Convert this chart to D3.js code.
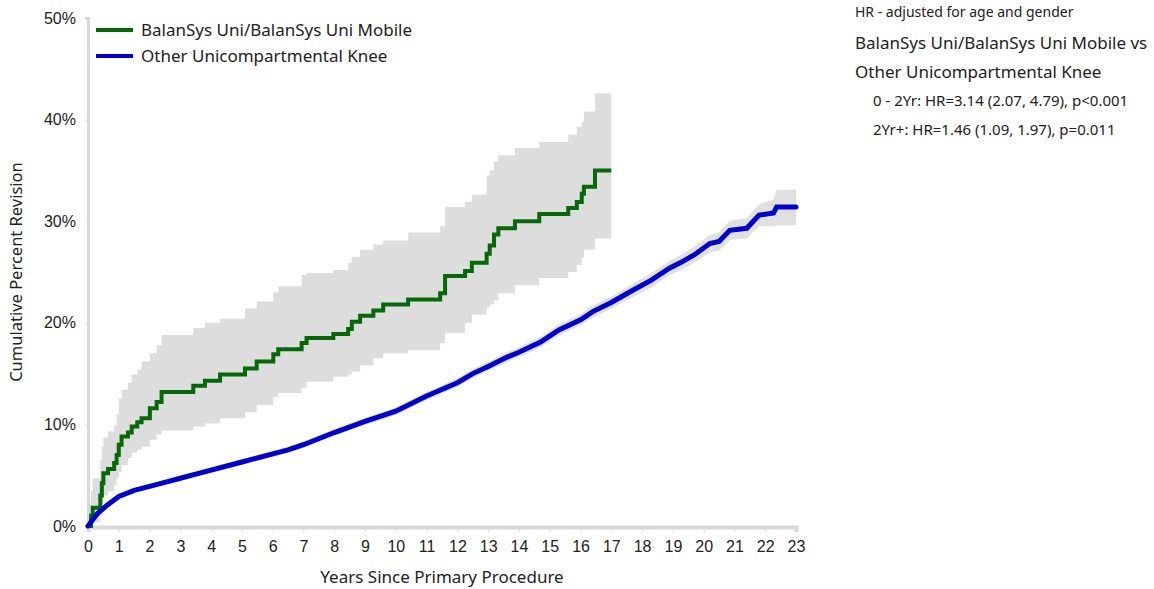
<!DOCTYPE html>
<html>
<head>
<meta charset="utf-8">
<script src="https://cdn.jsdelivr.net/npm/d3@7"></script>
<style>
  body { margin: 0; background: #fff; }
  svg { font-family: "Noto Sans", "Open Sans", sans-serif; }
</style>
</head>
<body>
<svg id="chart" width="1154" height="589"></svg>
<script>
// BalanSys Uni/BalanSys Uni Mobile (step curve with CI)
const gTime = [0, 0.1, 0.15, 0.4, 0.45, 0.5, 0.65, 0.85, 0.93, 1.0, 1.09, 1.3, 1.42, 1.6, 1.74, 2.01, 2.23, 2.39, 3.42, 3.8, 4.29, 5.1, 5.48, 6.02, 6.18, 6.94, 7.1, 7.97, 8.45, 8.57, 8.84, 9.27, 9.59, 10.4, 11.44, 11.6, 12.25, 12.47, 12.95, 13.05, 13.19, 13.33, 13.87, 14.66, 15.6, 15.88, 16.04, 16.11, 16.47, 17.0];
const gRev = [0, 1.0, 1.8, 3.0, 4.2, 5.2, 5.6, 6.2, 7.0, 8.0, 8.8, 9.2, 9.8, 10.2, 10.6, 11.6, 12.2, 13.2, 13.8, 14.3, 14.9, 15.5, 16.2, 16.9, 17.4, 18.0, 18.5, 18.9, 19.4, 20.1, 20.7, 21.2, 21.8, 22.3, 22.9, 24.6, 25.1, 25.9, 26.8, 27.6, 28.7, 29.3, 30.0, 30.7, 31.3, 31.9, 32.7, 33.4, 35.0, 35.0];
const gLow = [0, 0.1, 0.4, 1.2, 2.2, 3.0, 3.4, 4.0, 4.7, 5.3, 6.0, 6.7, 7.2, 7.5, 7.8, 8.5, 9.0, 9.4, 9.8, 10.1, 10.6, 11.2, 11.9, 12.7, 13.1, 13.6, 14.2, 14.7, 14.9, 15.2, 15.8, 16.5, 17.0, 17.3, 18.0, 19.0, 20.0, 20.8, 21.5, 21.8, 22.2, 22.9, 23.7, 24.4, 25.0, 25.7, 26.4, 27.2, 28.3, 28.3];
const gHigh = [0, 3.5, 4.7, 6.5, 7.8, 8.7, 9.3, 9.9, 11.0, 12.5, 13.4, 14.1, 14.9, 15.4, 16.2, 17.0, 17.8, 18.8, 19.5, 20.0, 20.4, 21.4, 22.1, 23.0, 23.6, 24.7, 24.9, 25.2, 25.9, 26.5, 27.2, 27.7, 28.1, 28.9, 29.5, 31.4, 31.9, 32.6, 34.5, 35.0, 35.9, 36.5, 37.2, 37.8, 38.5, 39.3, 39.8, 40.8, 42.6, 42.6];

// Other Unicompartmental Knee
const bTime = [0, 0.3, 0.6, 1, 1.5, 2, 2.5, 3, 3.5, 4, 5, 6, 6.5, 7, 8, 9, 10, 11, 12, 12.5, 13, 13.6, 14, 14.7, 15.3, 16, 16.4, 17, 17.7, 18.3, 18.9, 19.3, 19.7, 20.2, 20.5, 20.85, 21.4, 21.8, 22.27, 22.37, 23];
const bRev = [0, 1.2, 2.0, 2.9, 3.5, 3.9, 4.3, 4.7, 5.1, 5.5, 6.3, 7.1, 7.5, 8.0, 9.2, 10.3, 11.3, 12.8, 14.1, 15.0, 15.7, 16.6, 17.1, 18.1, 19.3, 20.3, 21.1, 22.0, 23.2, 24.2, 25.4, 26.0, 26.7, 27.8, 28.0, 29.1, 29.3, 30.6, 30.8, 31.4, 31.4];
const bLow = [0, 1.05, 1.8, 2.7, 3.3, 3.65, 4.05, 4.45, 4.8, 5.2, 6.0, 6.8, 7.2, 7.65, 8.85, 9.95, 10.9, 12.4, 13.65, 14.55, 15.25, 16.1, 16.6, 17.6, 18.75, 19.75, 20.5, 21.4, 22.55, 23.5, 24.7, 25.25, 25.9, 26.95, 27.1, 28.15, 28.3, 29.5, 29.5, 29.6, 29.6];
const bHigh = [0, 1.35, 2.2, 3.1, 3.7, 4.15, 4.55, 4.95, 5.4, 5.8, 6.6, 7.4, 7.8, 8.35, 9.55, 10.65, 11.7, 13.2, 14.55, 15.45, 16.15, 17.1, 17.6, 18.6, 19.85, 20.85, 21.7, 22.6, 23.85, 24.9, 26.1, 26.75, 27.5, 28.65, 28.9, 30.05, 30.3, 31.7, 32.1, 33.1, 33.1];

const xTicks = d3.range(0, 24);
const yTicks = [0, 10, 20, 30, 40, 50];
const seriesNames = ["BalanSys Uni/BalanSys Uni Mobile", "Other Unicompartmental Knee"];
const seriesColors = ["#076807", "#0000cd"];
const hrLines = [
  "HR - adjusted for age and gender",
  "BalanSys Uni/BalanSys Uni Mobile vs",
  "Other Unicompartmental Knee",
  "0 - 2Yr: HR=3.14 (2.07, 4.79), p<0.001",
  "2Yr+: HR=1.46 (1.09, 1.97), p=0.011"
];

const svg = d3.select("#chart");
const x = d3.scaleLinear().domain([0, 23]).range([88, 796]);
const y = d3.scaleLinear().domain([0, 50]).range([526, 18]);

const green = gTime.map((t, i) => ({ t, v: gRev[i], lo: gLow[i], hi: gHigh[i] }));
const blue = bTime.map((t, i) => ({ t, v: bRev[i], lo: bLow[i], hi: bHigh[i] }));

// CI bands
svg.append("path")
  .datum(blue)
  .attr("fill", "#e0e0e0")
  .attr("d", d3.area().x(d => x(d.t)).y0(d => y(d.lo)).y1(d => y(d.hi)));

svg.append("path")
  .datum(green)
  .attr("fill", "#dddddd")
  .attr("d", d3.area().curve(d3.curveStepAfter).x(d => x(d.t)).y0(d => y(d.lo)).y1(d => y(d.hi)));

// axes
const xAxis = svg.append("g")
  .attr("transform", "translate(0,527)")
  .call(d3.axisBottom(x).tickValues(xTicks).tickSize(5).tickPadding(9).tickFormat(d3.format("d")));
xAxis.select(".domain").attr("stroke", "#d9d9d9").attr("stroke-width", 4);
xAxis.selectAll(".tick line").attr("stroke", "#d9d9d9");
xAxis.selectAll("text").attr("font-size", 16).attr("fill", "#222");

const yAxis = svg.append("g")
  .attr("transform", "translate(88,0)")
  .call(d3.axisLeft(y).tickValues(yTicks).tickSize(3).tickPadding(9).tickFormat(d => d + "%"));
yAxis.select(".domain").attr("stroke", "#d9d9d9").attr("stroke-width", 3);
yAxis.selectAll(".tick line").attr("stroke", "#d9d9d9");
yAxis.selectAll("text").attr("font-size", 16).attr("fill", "#222");

// lines
svg.append("path")
  .datum(green)
  .attr("fill", "none")
  .attr("stroke", seriesColors[0])
  .attr("stroke-width", 4)
  .attr("d", d3.line().curve(d3.curveStepAfter).x(d => x(d.t)).y(d => y(d.v)));

svg.append("path")
  .datum(blue)
  .attr("fill", "none")
  .attr("stroke", seriesColors[1])
  .attr("stroke-width", 5)
  .attr("stroke-linecap", "round")
  .attr("d", d3.line().x(d => x(d.t)).y(d => y(d.v)));

// axis titles
svg.append("text")
  .attr("x", 442).attr("y", 583)
  .attr("text-anchor", "middle")
  .attr("font-size", 17).attr("fill", "#222")
  .text("Years Since Primary Procedure");

svg.append("text")
  .attr("transform", "translate(22,272) rotate(-90)")
  .attr("text-anchor", "middle")
  .attr("font-size", 16.5).attr("fill", "#222")
  .text("Cumulative Percent Revision");

// legend
const legend = svg.append("g").attr("transform", "translate(96,30)");
seriesNames.forEach((name, i) => {
  legend.append("line")
    .attr("x1", 0).attr("x2", 37)
    .attr("y1", i * 26).attr("y2", i * 26)
    .attr("stroke", seriesColors[i]).attr("stroke-width", 4);
  legend.append("text")
    .attr("x", 45).attr("y", i * 26 + 6)
    .attr("font-size", 17).attr("fill", "#222")
    .text(name);
});

// hazard ratio notes
const hrY = [17, 49, 78, 106, 135];
const hrX = [855, 855, 855, 873, 873];
const hrSize = [14, 17, 17, 15, 15];
hrLines.forEach((s, i) => {
  svg.append("text")
    .attr("x", hrX[i]).attr("y", hrY[i])
    .attr("font-size", hrSize[i]).attr("fill", "#222")
    .text(s);
});
</script>
</body>
</html>
